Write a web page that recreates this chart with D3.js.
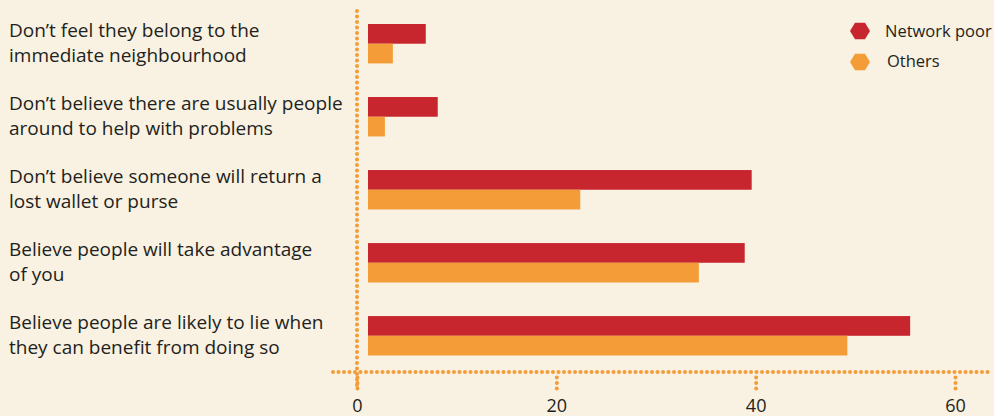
<!DOCTYPE html>
<html>
<head>
<meta charset="utf-8">
<script src="https://cdn.jsdelivr.net/npm/d3@7"></script>
<style>
  body { margin: 0; background: #f9f1e1; }
  svg { display: block; }
  .lbl { font-family: 'Open Sans', sans-serif; font-size: 19px; fill: #231f20; }
</style>
</head>
<body>
<div id="chart"></div>
<script>
const categories = [
  ['Don\u2019t feel they belong to the', 'immediate neighbourhood'],
  ['Don\u2019t believe there are usually people', 'around to help with problems'],
  ['Don\u2019t believe someone will return a', 'lost wallet or purse'],
  ['Believe people will take advantage', 'of you'],
  ['Believe people are likely to lie when', 'they can benefit from doing so']
];
const networkPoor = [6.9, 8.1, 39.6, 38.9, 55.5];
const others = [3.6, 2.8, 22.4, 34.3, 49.2];
const seriesNames = ['Network poor', 'Others'];
const tickValues = [0, 20, 40, 60];

const W = 994, H = 416;
const red = '#c8262f', orange = '#f49d38';
const colors = [red, orange];

const svg = d3.select('#chart').append('svg')
  .attr('width', W).attr('height', H);

svg.append('rect').attr('width', W).attr('height', H).attr('fill', '#f9f1e1');

const x = d3.scaleLinear().domain([0, 60]).range([357, 955]);
const barStart = x(0) + 11;   // bars sit a little right of the axis

const y = d3.scaleBand()
  .domain(d3.range(categories.length))
  .range([24, 355.5])
  .paddingInner(0.46)
  .paddingOuter(0);

const bh = y.bandwidth() / 2;

// bars
const groups = svg.selectAll('g.grp')
  .data(categories)
  .enter()
  .append('g')
  .attr('class', 'grp')
  .attr('transform', (d, i) => `translate(0,${y(i)})`);

groups.append('rect')
  .attr('x', barStart)
  .attr('y', 0)
  .attr('width', (d, i) => x(networkPoor[i]) - barStart)
  .attr('height', bh)
  .attr('fill', red);

groups.append('rect')
  .attr('x', barStart)
  .attr('y', bh)
  .attr('width', (d, i) => x(others[i]) - barStart)
  .attr('height', bh)
  .attr('fill', orange);

// category labels, two lines around the group centre
groups.append('text')
  .attr('class', 'lbl')
  .attr('x', 9)
  .attr('y', bh)
  .selectAll('tspan')
  .data(d => d)
  .enter()
  .append('tspan')
  .attr('x', 9)
  .attr('dy', (d, i) => i === 0 ? -7 : 25)
  .text(d => d);

// dotted axes
const dotted = sel => sel
  .attr('stroke', orange)
  .attr('stroke-width', 4)
  .attr('stroke-linecap', 'round')
  .attr('stroke-dasharray', '0 5.5')
  .attr('fill', 'none');

svg.append('line')
  .attr('x1', x(0)).attr('x2', x(0))
  .attr('y1', 11).attr('y2', 389)
  .call(dotted);

svg.append('line')
  .attr('x1', 333).attr('x2', 988)
  .attr('y1', 372).attr('y2', 372)
  .call(dotted);

const xAxis = d3.axisBottom(x)
  .tickValues(tickValues)
  .tickSize(17)
  .tickPadding(10);

const ax = svg.append('g')
  .attr('transform', 'translate(0,372)')
  .call(xAxis);
ax.select('.domain').remove();
ax.selectAll('.tick line').call(dotted).attr('y1', 5.5);
ax.selectAll('.tick text')
  .attr('class', 'lbl')
  .attr('fill', null)
  .style('font-size', '18px');

// legend
const hex = (cx, cy) => {
  const rx = 10, ry = 8.3;
  const pts = [[-rx, 0], [-rx / 2, -ry], [rx / 2, -ry], [rx, 0], [rx / 2, ry], [-rx / 2, ry]];
  return 'M' + pts.map(p => [cx + p[0], cy + p[1]].join(',')).join('L') + 'Z';
};

const legend = svg.selectAll('g.leg')
  .data(seriesNames)
  .enter()
  .append('g')
  .attr('class', 'leg');

legend.append('path')
  .attr('d', (d, i) => hex(860, 31 + i * 31))
  .attr('fill', (d, i) => colors[i]);

legend.append('text')
  .attr('class', 'lbl')
  .attr('x', (d, i) => i === 0 ? 885 : 887)
  .attr('y', (d, i) => 36.5 + i * 30.5)
  .style('font-size', '16.5px')
  .text(d => d);
</script>
</body>
</html>
